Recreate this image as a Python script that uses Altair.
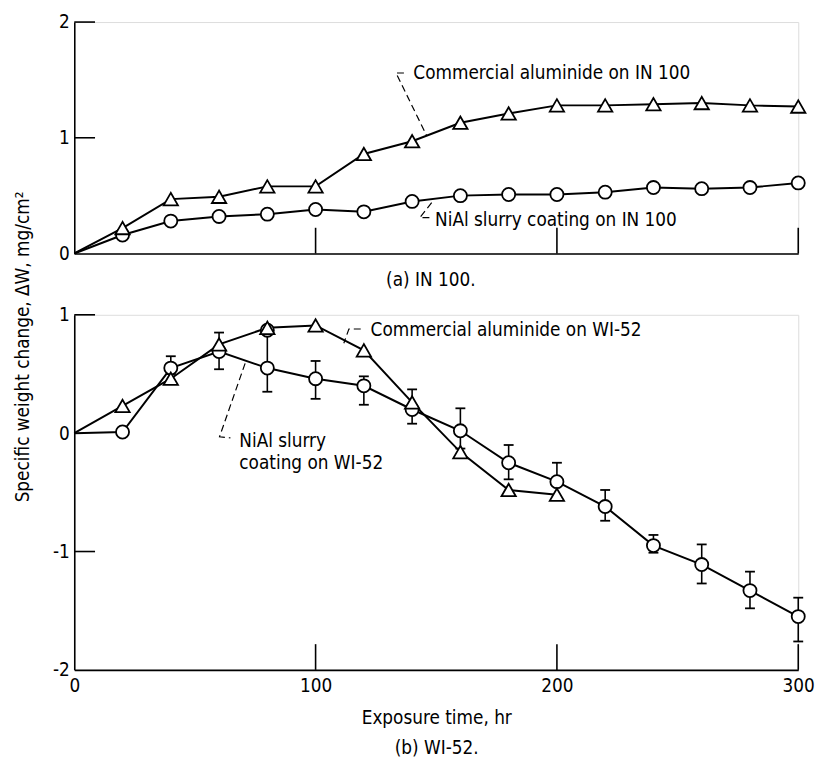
import altair as alt
import pandas as pd

FONT = "Liberation Sans Narrow, DejaVu Sans Condensed, Arial Narrow, sans-serif"

# ---------------- data ----------------
hours = [0, 20, 40, 60, 80, 100, 120, 140, 160, 180, 200, 220, 240, 260, 280, 300]

# (a) IN 100
in100_comm = [0, 0.22, 0.47, 0.49, 0.58, 0.58, 0.86, 0.97, 1.13, 1.21, 1.28, 1.28, 1.29, 1.30, 1.28, 1.27]
in100_nial = [0, 0.16, 0.28, 0.32, 0.34, 0.38, 0.36, 0.45, 0.50, 0.51, 0.51, 0.53, 0.57, 0.56, 0.57, 0.61]

# (b) WI-52
wi52_comm_hours = [0, 20, 40, 60, 80, 100, 120, 140, 160, 180, 200]
wi52_comm = [0, 0.23, 0.46, 0.75, 0.89, 0.91, 0.70, 0.26, -0.16, -0.48, -0.52]
wi52_nial = [0, 0.01, 0.55, 0.69, 0.55, 0.46, 0.40, 0.20, 0.02, -0.25, -0.41, -0.62, -0.95, -1.11, -1.33, -1.55]
err_hours = [40, 60, 80, 100, 120, 140, 160, 180, 200, 220, 240, 260, 280, 300]
err_hi = [0.65, 0.85, 0.87, 0.61, 0.48, 0.37, 0.21, -0.10, -0.25, -0.48, -0.86, -0.94, -1.17, -1.39]
err_lo = [0.50, 0.54, 0.35, 0.29, 0.24, 0.08, -0.13, -0.39, -0.55, -0.74, -1.01, -1.27, -1.48, -1.76]
extra_hours = [80]
extra_nial = [0.87]

# axis ticks / labels
top_y_labels = [0, 1, 2]
top_y_ticks = [1, 2]
bot_y_labels = [-2, -1, 0, 1]
bot_y_ticks = [1, -1]
x_labels = [0, 100, 200, 300]
x_ticks = [100, 200, 300]

# annotations
top_ann_text = ["Commercial aluminide on IN 100", "NiAl slurry coating on IN 100"]
top_ann_x = [140.5, 149.5]
top_ann_y = [1.56, 0.29]
top_lead1_x = [136.6, 133.3, 146.0]
top_lead1_y = [1.56, 1.56, 1.02]
top_lead2_x = [148.1, 143.2, 147.3]
top_lead2_y = [0.44, 0.31, 0.31]

bot_ann_text = ["Commercial aluminide on WI-52", "NiAl slurry", "coating on WI-52"]
bot_ann_x = [122.8, 68.4, 68.4]
bot_ann_y = [0.87, -0.07, -0.25]
bot_lead1_x = [118.7, 113.8, 111.7]
bot_lead1_y = [0.88, 0.88, 0.76]
bot_lead2_x = [70.8, 60.2, 64.7]
bot_lead2_y = [0.59, -0.03, -0.04]

# ---------------- layout ----------------
W = 732
H1 = 234
H2 = 359
TICK = 26
YTICK = 21
LBL = 19
ANN = 19

xs = alt.Scale(domain=[0, 300], nice=False, zero=False)
ys1 = alt.Scale(domain=[0, 2], nice=False)
ys2 = alt.Scale(domain=[-2, 1], nice=False)

neg_expr = "datum.value < 0 ? '-' + abs(datum.value) : '' + datum.value"

x_axis_top = alt.Axis(values=[0], labels=False, ticks=False, grid=False,
                      title="(a) IN 100.", titleFont=FONT, titleFontSize=LBL,
                      titleFontWeight="normal", titlePadding=17, titleX=360,
                      titleColor="black", domainColor="black", domainWidth=1.6)
y_axis_top = alt.Axis(values=top_y_labels, ticks=False, grid=False, title=None,
                      labelFont=FONT, labelFontSize=LBL, labelPadding=5,
                      labelExpr=neg_expr,
                      labelColor="black", domainColor="black", domainWidth=1.6)
x_axis_bot = alt.Axis(values=x_labels, ticks=False, grid=False, labelFlush=False,
                      labelFont=FONT, labelFontSize=LBL, labelPadding=7,
                      labelColor="black",
                      title=["Exposure time, hr", "(b) WI-52."], titleFont=FONT,
                      titleFontSize=LBL, titleFontWeight="normal", titleLineHeight=31,
                      titlePadding=13, titleColor="black",
                      domainColor="black", domainWidth=1.6)
y_axis_bot = alt.Axis(values=bot_y_labels, ticks=False, grid=False,
                      labelFont=FONT, labelFontSize=LBL, labelPadding=5,
                      labelColor="black", labelExpr=neg_expr,
                      title="Specific weight change, \u0394W, mg/cm\u00b2",
                      titleFont=FONT, titleFontSize=19, titleFontWeight="normal",
                      titleColor="black", titleX=-42, titleY=32,
                      domainColor="black", domainWidth=1.6)


def series_layers(xv, yv, shape, xaxis, yaxis, ysc):
    df = pd.DataFrame({"h": xv, "dw": yv})
    base = alt.Chart(df).encode(
        x=alt.X("h:Q", scale=xs, axis=xaxis),
        y=alt.Y("dw:Q", scale=ysc, axis=yaxis),
    )
    line = base.mark_line(color="black", strokeWidth=2)
    pts = base.transform_filter("datum.h > 0").mark_point(
        shape=shape, filled=True, fill="white", stroke="black", strokeWidth=1.8,
        size=175 if shape == "circle" else 210, opacity=1)
    return line, pts


def tick_layers(yticks, ysc, h):
    yt = alt.Chart(pd.DataFrame({"v": yticks})).mark_rule(color="black", strokeWidth=1.6).encode(
        y=alt.Y("v:Q", scale=ysc), x=alt.value(0), x2=alt.value(YTICK))
    xt = alt.Chart(pd.DataFrame({"v": x_ticks})).mark_rule(color="black", strokeWidth=1.6).encode(
        x=alt.X("v:Q", scale=xs), y=alt.value(h), y2=alt.value(h - TICK))
    return yt, xt


def leader(xv, yv, ysc):
    df = pd.DataFrame({"h": xv, "dw": yv, "i": list(range(len(xv)))})
    return alt.Chart(df).mark_line(color="black", strokeWidth=1.2, strokeDash=[7, 4]).encode(
        x=alt.X("h:Q", scale=xs), y=alt.Y("dw:Q", scale=ysc), order="i:O")


def texts(tv, xv, yv, ysc):
    df = pd.DataFrame({"t": tv, "h": xv, "dw": yv})
    return alt.Chart(df).mark_text(align="left", baseline="middle", font=FONT,
                                   fontSize=ANN, color="black").encode(
        x=alt.X("h:Q", scale=xs), y=alt.Y("dw:Q", scale=ysc), text="t:N")


# ---------------- top panel ----------------
l1, p1 = series_layers(hours, in100_comm, "triangle-up", x_axis_top, y_axis_top, ys1)
l2, p2 = series_layers(hours, in100_nial, "circle", x_axis_top, y_axis_top, ys1)
yt1, xt1 = tick_layers(top_y_ticks, ys1, H1)
top = alt.layer(
    l1, l2, yt1, xt1,
    leader(top_lead1_x, top_lead1_y, ys1), leader(top_lead2_x, top_lead2_y, ys1),
    p2, p1,
    texts(top_ann_text, top_ann_x, top_ann_y, ys1),
).properties(width=W, height=H1)

# ---------------- bottom panel ----------------
l3, p3 = series_layers(wi52_comm_hours, wi52_comm, "triangle-up", x_axis_bot, y_axis_bot, ys2)
l4, p4 = series_layers(hours, wi52_nial, "circle", x_axis_bot, y_axis_bot, ys2)
_, p5 = series_layers(extra_hours, extra_nial, "circle", x_axis_bot, y_axis_bot, ys2)
yt2, xt2 = tick_layers(bot_y_ticks, ys2, H2)

err_df = pd.DataFrame({"h": err_hours, "hi": err_hi, "lo": err_lo})
err_base = alt.Chart(err_df)
err_rule = err_base.mark_rule(color="black", strokeWidth=1.6).encode(
    x=alt.X("h:Q", scale=xs), y=alt.Y("lo:Q", scale=ys2), y2="hi:Q")
cap_hi = err_base.mark_tick(orient="horizontal", color="black", size=10, thickness=1.8, opacity=1).encode(
    x=alt.X("h:Q", scale=xs), y=alt.Y("hi:Q", scale=ys2))
cap_lo = err_base.mark_tick(orient="horizontal", color="black", size=10, thickness=1.8, opacity=1).encode(
    x=alt.X("h:Q", scale=xs), y=alt.Y("lo:Q", scale=ys2))

bottom = alt.layer(
    l3, l4, yt2, xt2, err_rule, cap_hi, cap_lo,
    leader(bot_lead1_x, bot_lead1_y, ys2), leader(bot_lead2_x, bot_lead2_y, ys2),
    p5, p4, p3,
    texts(bot_ann_text, bot_ann_x, bot_ann_y, ys2),
).properties(width=W, height=H2)

chart = alt.vconcat(top, bottom, spacing=62, bounds="flush").properties(
    padding={"left": 5, "top": 0, "right": 5, "bottom": 5}
).configure_view(stroke=None).configure(background="white")

chart.save("out.html", embed_options={"renderer": "svg", "actions": False})
